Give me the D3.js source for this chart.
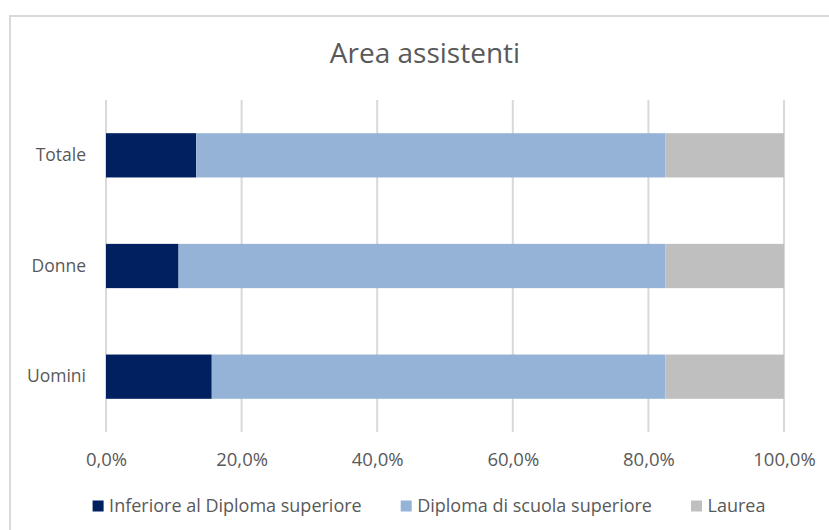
<!DOCTYPE html>
<html>
<head>
<meta charset="utf-8">
<script src="https://cdn.jsdelivr.net/npm/d3@7"></script>
<style>
  body { margin: 0; background: #fff; }
  text { font-family: "Open Sans", sans-serif; fill: #595959; }
</style>
</head>
<body>
<svg width="829" height="530"></svg>
<script>
// data (percentages)
var categories = ["Totale", "Donne", "Uomini"];
var seriesNames = ["Inferiore al Diploma superiore", "Diploma di scuola superiore", "Laurea"];
var inferiore = [13.3, 10.7, 15.6];
var diploma = [69.2, 71.8, 66.9];
var laurea = [17.5, 17.5, 17.5];
var tickValues = [0, 20, 40, 60, 80, 100];
var colors = ["#002060", "#95B3D7", "#BFBFBF"];

var svg = d3.select("svg"),
    margin = {top: 100, right: 45, bottom: 98, left: 106},
    width = svg.attr("width") - margin.left - margin.right,
    height = svg.attr("height") - margin.top - margin.bottom;

// chart frame (right and bottom edge are cut off in the reference)
svg.append("rect")
    .attr("x", 10)
    .attr("y", 16)
    .attr("width", 900)
    .attr("height", 600)
    .attr("fill", "none")
    .attr("stroke", "#D9D9D9")
    .attr("stroke-width", 2);

// title
svg.append("text")
    .attr("x", 425)
    .attr("y", 63)
    .attr("text-anchor", "middle")
    .attr("font-size", 28)
    .text("Area assistenti");

var g = svg.append("g").attr("transform", "translate(" + margin.left + "," + margin.top + ")");

var x = d3.scaleLinear()
    .domain([0, 100])
    .range([0, width]);

var y = d3.scaleBand()
    .domain(categories)
    .range([0, height])
    .paddingInner(0.6)
    .paddingOuter(0.3);

var rows = categories.map(function(c, i) {
  return {cat: c, s0: inferiore[i], s1: diploma[i], s2: laurea[i]};
});
var stack = d3.stack().keys(["s0", "s1", "s2"])(rows);

// gridlines
g.append("g")
    .selectAll("line")
    .data(tickValues)
    .enter().append("line")
    .attr("x1", function(d) { return x(d); })
    .attr("x2", function(d) { return x(d); })
    .attr("y1", 0)
    .attr("y2", height)
    .attr("stroke", "#D9D9D9")
    .attr("stroke-width", 2);

// bars
g.append("g")
    .selectAll("g")
    .data(stack)
    .enter().append("g")
    .attr("fill", function(d, i) { return colors[i]; })
    .selectAll("rect")
    .data(function(d) { return d; })
    .enter().append("rect")
    .attr("x", function(d) { return x(d[0]); })
    .attr("y", function(d) { return y(d.data.cat); })
    .attr("width", function(d) { return x(d[1]) - x(d[0]); })
    .attr("height", y.bandwidth());

// x axis labels
var xAxis = g.append("g")
    .attr("transform", "translate(0," + height + ")")
    .call(d3.axisBottom(x).tickValues(tickValues).tickSize(0).tickPadding(21)
      .tickFormat(function(d) { return d.toFixed(1).replace(".", ",") + "%"; }));
xAxis.select(".domain").remove();
xAxis.selectAll("text").attr("font-size", 18.5).attr("fill", "#595959");

// y axis labels
var yAxis = g.append("g")
    .call(d3.axisLeft(y).tickSize(0).tickPadding(20));
yAxis.select(".domain").remove();
yAxis.selectAll("text").attr("font-size", 17.5).attr("fill", "#595959");

// legend
var legend = svg.append("g")
    .attr("transform", "translate(0,506)");

var items = legend.selectAll("g")
    .data(seriesNames)
    .enter().append("g");

items.append("rect")
    .attr("y", -5.5)
    .attr("width", 11)
    .attr("height", 11)
    .attr("fill", function(d, i) { return colors[i]; });

items.append("text")
    .attr("x", 16.5)
    .attr("dy", "0.35em")
    .attr("font-size", 18)
    .text(function(d) { return d; });

// place legend items side by side, centred
var gap = 39, widths = [], total = 0;
items.each(function() {
  var w = this.getBBox().width;
  widths.push(w);
  total += w;
});
total += gap * (widths.length - 1);
var pos = 429 - total / 2;
items.attr("transform", function(d, i) {
  var p = pos;
  pos += widths[i] + gap;
  return "translate(" + p + ",0)";
});
</script>
</body>
</html>
